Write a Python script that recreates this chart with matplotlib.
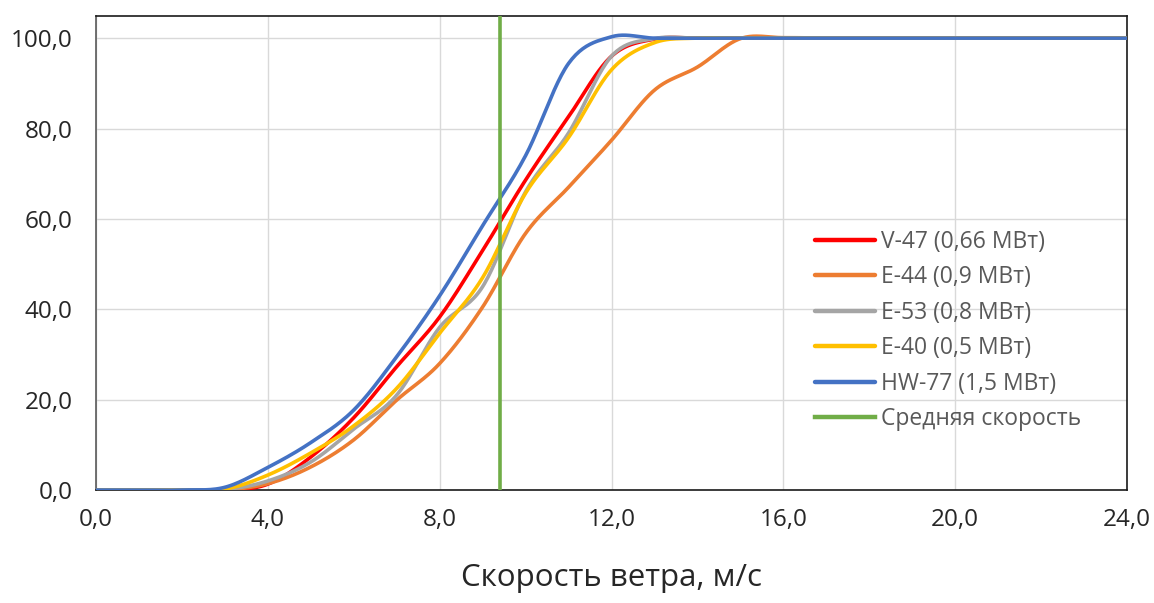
import numpy as np
import matplotlib
matplotlib.use("Agg")
import matplotlib.pyplot as plt
from matplotlib.ticker import FuncFormatter

# ---- data ----
wind_speed = list(range(0, 25))
v47  = [0, 0, 0, 0.0, 1.3, 7.3, 16.0, 27.3, 38.3, 53.0, 68.6, 82.6, 96.0, 99.8, 100, 100, 100, 100, 100, 100, 100, 100, 100, 100, 100]
e44  = [0, 0, 0, 0.0, 1.4, 5.1, 11.1, 19.9, 28.0, 40.5, 56.8, 67.0, 77.4, 88.5, 93.6, 99.9, 100.1, 100, 100, 100, 100, 100, 100, 100, 100]
e53  = [0, 0, 0, 0.1, 2.0, 6.2, 13.5, 21.0, 36.0, 45.0, 66.0, 79.0, 96.0, 99.9, 100, 100, 100, 100, 100, 100, 100, 100, 100, 100, 100]
e40  = [0, 0, 0, 0.2, 3.3, 8.2, 14.2, 22.5, 34.7, 47.0, 65.7, 78.0, 93.0, 99.0, 100, 100, 100, 100, 100, 100, 100, 100, 100, 100, 100]
hw77 = [0, 0, 0, 0.6, 5.0, 10.5, 17.7, 29.5, 43.0, 58.5, 74.0, 94.4, 100.3, 100, 100, 100, 100, 100, 100, 100, 100, 100, 100, 100, 100]
mean_speed = 9.4

series_names = ["V-47 (0,66 МВт)", "E-44 (0,9 МВт)", "E-53 (0,8 МВт)",
                "E-40 (0,5 МВт)", "HW-77 (1,5 МВт)"]
mean_name = "Средняя скорость"
x_label = "Скорость ветра, м/с"

colors = ["#FF0000", "#ED7D31", "#A5A5A5", "#FFC000", "#4472C4"]
mean_color = "#70AD47"


def smooth(x, y, n=24):
    """Catmull-Rom smoothing like Excel's smoothed line."""
    x = np.asarray(x, float)
    y = np.asarray(y, float)
    xs, ys = [], []
    for i in range(len(x) - 1):
        y0 = y[i - 1] if i > 0 else y[i]
        y3 = y[i + 2] if i + 2 < len(y) else y[i + 1]
        y1, y2 = y[i], y[i + 1]
        t = np.linspace(0, 1, n, endpoint=False)
        m1 = (y2 - y0) / 2
        m2 = (y3 - y1) / 2
        h00 = 2 * t**3 - 3 * t**2 + 1
        h10 = t**3 - 2 * t**2 + t
        h01 = -2 * t**3 + 3 * t**2
        h11 = t**3 - t**2
        xs.append(x[i] + t * (x[i + 1] - x[i]))
        ys.append(h00 * y1 + h10 * m1 + h01 * y2 + h11 * m2)
    xs.append([x[-1]])
    ys.append([y[-1]])
    return np.concatenate(xs), np.concatenate(ys)


plt.rcParams["font.family"] = ["Open Sans", "DejaVu Sans"]

fig = plt.figure(figsize=(11.54, 6.03), dpi=100)
ax = fig.add_axes([96 / 1154, 1 - 490 / 603, (1127 - 96) / 1154, (490 - 16) / 603])

for vals, name, c in zip([v47, e44, e53, e40, hw77], series_names, colors):
    sx, sy = smooth(wind_speed, vals)
    ax.plot(sx, sy, color=c, lw=2.6, label=name, solid_capstyle="round", zorder=3)

ax.axvline(mean_speed, color=mean_color, lw=2.6, label=mean_name, zorder=4)

ax.set_xlim(0, 24)
ax.set_ylim(0, 104.9)
ax.set_xticks(np.arange(0, 25, 4))
ax.set_yticks(np.arange(0, 101, 20))
fmt = FuncFormatter(lambda v, p: f"{v:.1f}".replace(".", ","))
ax.xaxis.set_major_formatter(fmt)
ax.yaxis.set_major_formatter(fmt)
ax.tick_params(axis="both", length=0, labelsize=17.5, colors="#262626")
ax.tick_params(axis="y", pad=17)
ax.tick_params(axis="x", pad=13)
ax.grid(True, color="#D9D9D9", lw=1)
ax.set_axisbelow(True)
for s in ax.spines.values():
    s.set_color("#1a1a1a")
    s.set_linewidth(1.2)
ax.spines["left"].set_color("#595959")

ax.set_xlabel(x_label, fontsize=22.5, color="#262626", labelpad=22)

leg = ax.legend(loc="upper left", bbox_to_anchor=(815 / 1154, 1 - 230 / 603),
                bbox_transform=fig.transFigure, frameon=False, fontsize=16.5,
                handlelength=2.6, handletextpad=0.3, labelspacing=0.5,
                borderpad=0, borderaxespad=0)
for t in leg.get_texts():
    t.set_color("#595959")
for h in leg.get_lines():
    h.set_linewidth(3.2)

fig.savefig("out.png", dpi=100)
